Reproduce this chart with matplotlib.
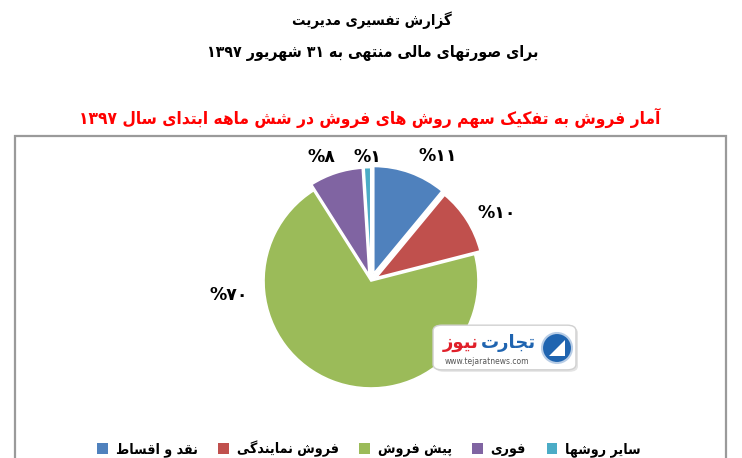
import re
import matplotlib
matplotlib.use("Agg")
import matplotlib.pyplot as plt
from matplotlib.patches import Rectangle, FancyBboxPatch, Ellipse, Polygon

# ---------------- data ----------------
title_line1 = "گزارش تفسیری مدیریت"
title_line2 = "برای صورتهای مالی منتهی به ۳۱ شهریور ۱۳۹۷"
chart_title = "آمار فروش به تفکیک سهم روش های فروش در شش ماهه ابتدای سال ۱۳۹۷"
categories = ["نقد و اقساط", "فروش نمایندگی", "پیش فروش", "فوری", "سایر روشها"]
shares = [11, 10, 70, 8, 1]
colors = ["#4F81BD", "#C0504D", "#9BBB59", "#8064A2", "#4BACC6"]

# ---------------- minimal Persian shaping ----------------
FORMS = {
    'ا': (0xFE8D, 0xFE8E), 'آ': (0xFE81, 0xFE82), 'د': (0xFEA9, 0xFEAA),
    'ذ': (0xFEAB, 0xFEAC), 'ر': (0xFEAD, 0xFEAE), 'ز': (0xFEAF, 0xFEB0),
    'ژ': (0xFB8A, 0xFB8B), 'و': (0xFEED, 0xFEEE),
    'ب': (0xFE8F, 0xFE90, 0xFE91, 0xFE92), 'پ': (0xFB56, 0xFB57, 0xFB58, 0xFB59),
    'ت': (0xFE95, 0xFE96, 0xFE97, 0xFE98), 'ث': (0xFE99, 0xFE9A, 0xFE9B, 0xFE9C),
    'ج': (0xFE9D, 0xFE9E, 0xFE9F, 0xFEA0), 'چ': (0xFB7A, 0xFB7B, 0xFB7C, 0xFB7D),
    'ح': (0xFEA1, 0xFEA2, 0xFEA3, 0xFEA4), 'خ': (0xFEA5, 0xFEA6, 0xFEA7, 0xFEA8),
    'س': (0xFEB1, 0xFEB2, 0xFEB3, 0xFEB4), 'ش': (0xFEB5, 0xFEB6, 0xFEB7, 0xFEB8),
    'ص': (0xFEB9, 0xFEBA, 0xFEBB, 0xFEBC), 'ض': (0xFEBD, 0xFEBE, 0xFEBF, 0xFEC0),
    'ط': (0xFEC1, 0xFEC2, 0xFEC3, 0xFEC4), 'ظ': (0xFEC5, 0xFEC6, 0xFEC7, 0xFEC8),
    'ع': (0xFEC9, 0xFECA, 0xFECB, 0xFECC), 'غ': (0xFECD, 0xFECE, 0xFECF, 0xFED0),
    'ف': (0xFED1, 0xFED2, 0xFED3, 0xFED4), 'ق': (0xFED5, 0xFED6, 0xFED7, 0xFED8),
    'ک': (0xFB8E, 0xFB8F, 0xFB90, 0xFB91), 'گ': (0xFB92, 0xFB93, 0xFB94, 0xFB95),
    'ل': (0xFEDD, 0xFEDE, 0xFEDF, 0xFEE0), 'م': (0xFEE1, 0xFEE2, 0xFEE3, 0xFEE4),
    'ن': (0xFEE5, 0xFEE6, 0xFEE7, 0xFEE8), 'ه': (0xFEE9, 0xFEEA, 0xFEEB, 0xFEEC),
    'ی': (0xFBFC, 0xFBFD, 0xFBFE, 0xFBFF),
}
DIGITS = "0123456789۰۱۲۳۴۵۶۷۸۹"


def reshape(s):
    out = []
    n = len(s)
    i = 0
    while i < n:
        ch = s[i]
        if ch not in FORMS:
            out.append(ch)
            i += 1
            continue
        prev = s[i - 1] if i > 0 else None
        prev_conn = prev is not None and prev in FORMS and len(FORMS[prev]) == 4
        if ch == 'ل' and i + 1 < n and s[i + 1] in 'اآ':
            lig = (0xFEFB, 0xFEFC) if s[i + 1] == 'ا' else (0xFEF5, 0xFEF6)
            out.append(chr(lig[1] if prev_conn else lig[0]))
            i += 2
            continue
        nxt = s[i + 1] if i + 1 < n else None
        f = FORMS[ch]
        next_conn = len(f) == 4 and nxt is not None and nxt in FORMS
        if prev_conn and next_conn:
            out.append(chr(f[3]))
        elif prev_conn:
            out.append(chr(f[1]))
        elif next_conn:
            out.append(chr(f[2]))
        else:
            out.append(chr(f[0]))
        i += 1
    return ''.join(out)


def fa(s):
    shaped = reshape(s)
    runs = re.findall(r'[0-9۰-۹]+|[^0-9۰-۹]+', shaped)
    res = []
    for r in reversed(runs):
        res.append(r if r[0] in DIGITS else r[::-1])
    return ''.join(res)


def fa_digits(v):
    return ''.join("۰۱۲۳۴۵۶۷۸۹"[int(c)] for c in str(v))


FONT = "DejaVu Sans"
STRETCH = "condensed"

# ---------------- figure ----------------
W, H = 742, 458
fig = plt.figure(figsize=(W / 100, H / 100), dpi=100)
fig.patch.set_facecolor("white")


def fx(px):
    return px / W


def fy(py):
    return 1 - py / H


fig.text(fx(372), fy(20), fa(title_line1), ha="center", va="center",
         fontsize=10.7, fontweight="bold", family=FONT, fontstretch=STRETCH, color="black")
fig.text(fx(373), fy(53), fa(title_line2), ha="center", va="center",
         fontsize=11.4, fontweight="bold", family=FONT, fontstretch=STRETCH, color="black")

# chart frame
fig.patches.append(Rectangle((fx(15), fy(480)), fx(726) - fx(15), fy(136) - fy(480),
                             transform=fig.transFigure, fill=False,
                             edgecolor="#9a9a9a", linewidth=1.6, zorder=0))

fig.text(fx(370), fy(118), fa(chart_title), ha="center", va="center",
         fontsize=12.4, fontweight="bold", family=FONT, fontstretch=STRETCH, color="#FF0000")

# pie axes: centre (371, 281) px, radius 107 px
cx, cy, R = 371, 281, 107
half = 150
ax = fig.add_axes([fx(cx - half), fy(cy + half), 2 * half / W, 2 * half / H])
explode = [0.075, 0.06, 0.0, 0.06, 0.06]
wedges, _ = ax.pie(shares, colors=colors, startangle=90, counterclock=False,
                   explode=explode, radius=1.0,
                   wedgeprops=dict(edgecolor="white", linewidth=1.2))
lim = half / R
ax.set_xlim(-lim, lim)
ax.set_ylim(-lim, lim)
ax.set_aspect("equal")
ax.axis("off")

# labels (pixel centres of the label boxes)
label_px = [(438, 156), (497, 213), (229, 295), (321, 157), (367, 157)]
for v, (px, py) in zip(shares, label_px):
    ax.text((px - cx) / R, (cy - py) / R, "%" + fa_digits(v), ha="center",
            va="center", fontsize=12.5, fontweight="bold", family=FONT, color="black")

# watermark
shadow = FancyBboxPatch((fx(438), fy(370)), fx(573) - fx(436), fy(327) - fy(368),
                        boxstyle="round,pad=0.004,rounding_size=0.012",
                        transform=fig.transFigure, facecolor="#e4e4e4",
                        edgecolor="none", zorder=4)
fig.patches.append(shadow)
wm = FancyBboxPatch((fx(436), fy(368)), fx(573) - fx(436), fy(327) - fy(368),
                    boxstyle="round,pad=0.004,rounding_size=0.012",
                    transform=fig.transFigure, facecolor="white",
                    edgecolor="#d0d0d0", linewidth=1.0, zorder=5)
fig.patches.append(wm)
fig.patches.append(Ellipse((fx(557), fy(348)), 30 / W, 30 / H, transform=fig.transFigure,
                           facecolor="#1f64b0", edgecolor="#b8cde6", linewidth=1.5, zorder=6))
fig.patches.append(Polygon([(fx(549), fy(356)), (fx(565), fy(340)), (fx(565), fy(356))],
                           closed=True, transform=fig.transFigure,
                           facecolor="white", edgecolor="none", zorder=7))
fig.text(fx(508), fy(343), fa("تجارت"), ha="center", va="center", fontsize=13,
         fontweight="bold", family=FONT, color="#1f64b0", zorder=7)
fig.text(fx(461), fy(343), fa("نیوز"), ha="center", va="center", fontsize=13,
         fontweight="bold", family=FONT, color="#e0202a", zorder=7)
fig.text(fx(487), fy(361), "www.tejaratnews.com", ha="center", va="center",
         fontsize=5.5, family=FONT, color="#555555", zorder=7)

# legend
handles = [Rectangle((0, 0), 1, 1, facecolor=c, edgecolor="none") for c in colors]
leg = fig.legend(handles, [fa(c) for c in categories], ncol=5, loc="center",
                 bbox_to_anchor=(fx(369), fy(449)), frameon=False,
                 handlelength=0.75, handleheight=0.75, handletextpad=0.55,
                 columnspacing=1.45,
                 prop=dict(family=FONT, weight="bold", size=10.2, stretch=STRETCH))

fig.savefig("out.png", dpi=100, facecolor="white")
